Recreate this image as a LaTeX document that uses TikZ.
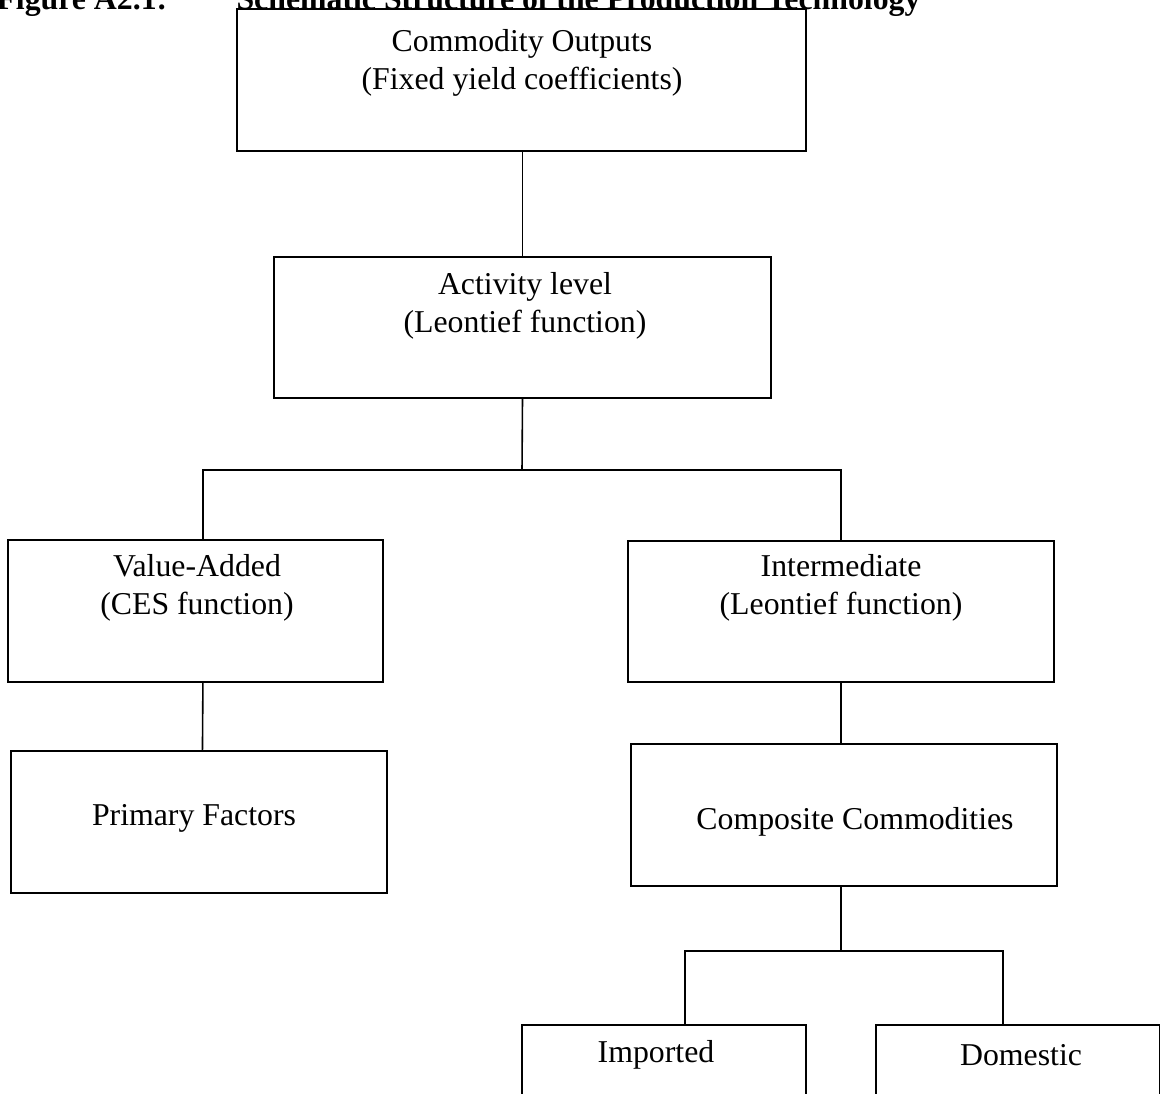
\documentclass[tikz,border=0pt]{standalone}
\usepackage{fontspec}
\setmainfont{Liberation Serif}
\usetikzlibrary{positioning}

\tikzset{
  blk/.style={draw,line width=.6pt,inner sep=0pt},
  txt/.style={align=center,inner sep=0pt,font=\fontsize{12}{14.5}\selectfont},
  ttl/.style={anchor=base west,inner sep=0pt,font=\fontsize{12}{14.5}\selectfont\bfseries},
}

\begin{document}
\begin{tikzpicture}[x=0.3774pt,y=-0.3774pt]

        \useasboundingbox (0,0) rectangle (1160,1093);

        % heading, cut at the top
        \node[ttl] (fig) at (-4,10) {Figure A2.1:};
        \node[ttl] (head) at (236,10) {Schematic Structure of the Production Technology};

        \begin{scope}[every node/.style={blk}]
          \node[minimum width=214.7pt,minimum height=53.6pt] (out)  at (521.5,80)   {};
          \node[minimum width=187.6pt,minimum height=53.2pt] (act)  at (522.5,327.5) {};
          \node[minimum width=141.5pt,minimum height=53.6pt] (va)   at (195.5,611)  {};
          \node[minimum width=160.8pt,minimum height=53.2pt] (int)  at (841,611.5)  {};
          \node[minimum width=141.9pt,minimum height=53.6pt] (prim) at (199,822)    {};
          \node[minimum width=160.8pt,minimum height=53.6pt] (comp) at (844,815)    {};
          \node[minimum width=107.2pt,minimum height=53.6pt] (imp)  at (664,1096)   {};
          \node[minimum width=107.2pt,minimum height=53.6pt] (dom)  at (1018,1096)  {};
        \end{scope}

        \begin{scope}[every node/.style={txt}]
          \node (outt)  at (522,63)   {Commodity Outputs\\(Fixed yield coefficients)};
          \node (actt)  at (525,306)  {Activity level\\(Leontief function)};
          \node (vat)   at (197,588)  {Value-Added\\(CES function)};
          \node (intt)  at (841,588)  {Intermediate\\(Leontief function)};
          \node (primt) at (194,818)  {Primary Factors};
          \node (compt) at (855,822)  {Composite Commodities};
          \node (impt)  at (656,1055) {Imported};
          \node (domt)  at (1021,1055) {Domestic};
        \end{scope}

        \coordinate (s1) at (522,470);
        \coordinate (s2) at (841,951);

        \begin{scope}[line width=.6pt]
          \draw (out.south) -- (act.south |- out.south) -- (act.north);
          \draw (act.south) -- (s1);
          \draw (s1) -| ([xshift=2.8pt]va.north);
          \draw (s1) -| (int.north);
          \draw ([xshift=2.8pt]va.south) -- ([xshift=1.3pt]prim.north);
          \draw (int.south) -- (int.south |- comp.north);
          \draw (comp.south -| s2) -- (s2);
          \draw (s2) -| ([xshift=7.9pt]imp.north);
          \draw (s2) -| ([xshift=-5.7pt]dom.north);
        \end{scope}

      \end{tikzpicture}
\end{document}
